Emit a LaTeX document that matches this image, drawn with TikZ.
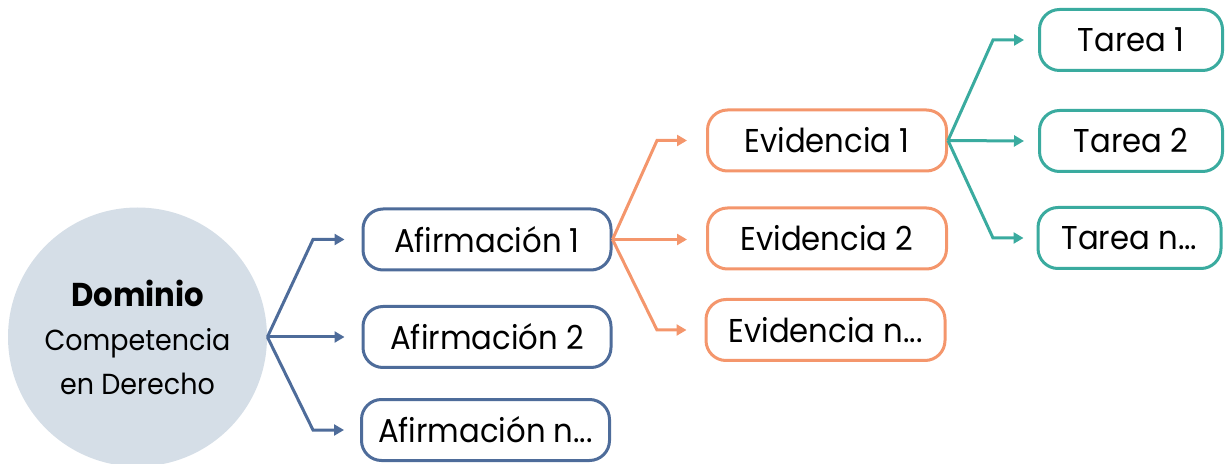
\documentclass[tikz,border=0pt]{standalone}
\usepackage{fontspec}
\setmainfont{Poppins}[FakeStretch=0.93]
\usetikzlibrary{arrows.meta}
\definecolor{cblue}{HTML}{4E6C9A}
\definecolor{corange}{HTML}{F4966C}
\definecolor{cteal}{HTML}{3AAB9F}
\definecolor{cfill}{HTML}{D5DEE7}
\begin{document}
\begin{tikzpicture}[x=0.5pt,y=-0.5pt,
  box/.style={draw, rounded corners=10pt, line width=1.5pt, fill=white,
    minimum height=30.5pt, inner sep=0pt, font=\fontsize{16.5}{19}\selectfont},
  abox/.style={box, draw=cblue, minimum width=124pt},
  ebox/.style={box, draw=corange, minimum width=119.5pt},
  tbox/.style={box, draw=cteal, minimum width=91.5pt},
  conn/.style={line width=1.5pt, -{Triangle[length=5pt,width=5.5pt]}},
]
\useasboundingbox (0,0) rectangle (1225,464);
\node[circle, fill=cfill, minimum size=129.5pt, inner sep=0pt, align=center,
  font=\fontsize{14.5}{22}\selectfont] (dom) at (137.5,337)
  {{\fontsize{16.5}{22}\selectfont\textbf{Dominio}}\\Competencia\\en Derecho};

\node[abox] (a1) at (487,239.5) {Afirmación 1};
\node[abox] (a2) at (487,337) {Afirmación 2};
\node[abox] (an) at (485.5,430) {Afirmación n...};

\node[ebox] (e1) at (827,140.5) {Evidencia 1};
\node[ebox] (e2) at (827,238.5) {Evidencia 2};
\node[ebox] (en) at (825.5,330) {Evidencia n...};

\node[tbox] (t1) at (1131,40) {Tarea 1};
\node[tbox] (t2) at (1131,141) {Tarea 2};
\node[tbox] (tn) at (1129.5,238) {Tarea n...};

\coordinate (bA) at (313,0);
\coordinate (bE) at (657,0);
\coordinate (bT) at (993,0);

\draw[conn, cblue] (dom.east) -- (bA |- a1.west) -- ([xshift=-8.5pt]a1.west);
\draw[conn, cblue] (dom.east) -- ([xshift=-8.5pt]a2.west);
\draw[conn, cblue] (dom.east) -- (bA |- an.west) -- ([xshift=-8pt]an.west);

\draw[conn, corange] (a1.east) -- (bE |- e1.west) -- ([xshift=-9.5pt]e1.west);
\draw[conn, corange] (a1.east) -- ([xshift=-9.5pt]a1.east -| e2.west);
\draw[conn, corange] (a1.east) -- (bE |- en.west) -- ([xshift=-9pt]en.west);

\draw[conn, cteal] (e1.east) -- (bT |- t1.west) -- ([xshift=-7pt]t1.west);
\draw[conn, cteal] (e1.east) -- ([xshift=-7pt]t2.west);
\draw[conn, cteal] (e1.east) -- (bT |- tn.west) -- ([xshift=-6.5pt]tn.west);
\end{tikzpicture}
\end{document}
